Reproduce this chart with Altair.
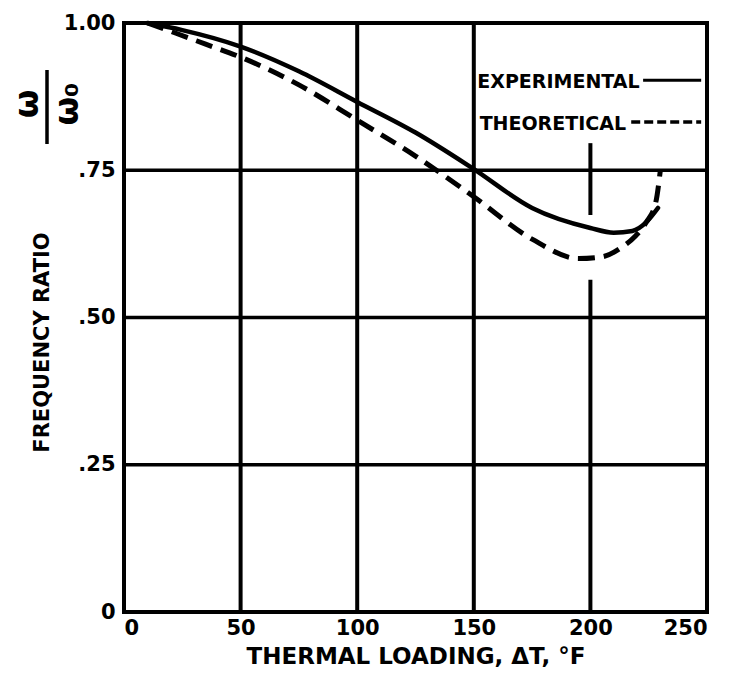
import altair as alt
import pandas as pd

# ---- data ----
exp_x = [10, 25, 50, 75, 100, 125, 150, 175, 200, 210, 218, 224, 229]
exp_y = [1.0, 0.988, 0.96, 0.918, 0.866, 0.814, 0.752, 0.686, 0.652, 0.644, 0.647, 0.662, 0.686]

theo_x = [10, 22, 35, 50, 75, 100, 125, 150, 175, 195, 205, 213, 219, 224, 228, 230]
theo_y = [1.0, 0.983, 0.964, 0.942, 0.895, 0.835, 0.774, 0.705, 0.633, 0.600, 0.603, 0.618, 0.637, 0.662, 0.695, 0.75]

x_ticks = [0, 50, 100, 150, 200, 250]
y_ticks = [0, 0.25, 0.5, 0.75, 1.0]
y_tick_labels = ["0", ".25", ".50", ".75", "1.00"]

# vertical grid segments (the 200 line is interrupted in the original)
vgrid_x = [50, 100, 150, 200, 200]
vgrid_y0 = [0, 0, 0, 0, 0.674]
vgrid_y1 = [1, 1, 1, 0.564, 0.796]
hgrid_y = [0.25, 0.5, 0.75]

legend_labels = ["EXPERIMENTAL", "THEORETICAL"]
legend_text_x = [151.5, 152.5]
legend_text_y = [0.900, 0.828]
legend_line_x0 = [222.6, 217.5]
legend_line_x1 = [247.5, 247.5]
legend_line_y = [0.903, 0.832]

omega_labels = ["ω", "ω₀"]

FONT = "DejaVu Sans"
W, H = 583, 589

xs = alt.Scale(domain=[0, 250], nice=False)
ys = alt.Scale(domain=[0, 1], nice=False)

y_expr = ""
for v, lab in zip(y_ticks, y_tick_labels):
    y_expr += f"abs(datum.value - {v}) < 0.001 ? '{lab}' : "
y_expr += "''"

x_axis = alt.Axis(
    values=x_ticks, labelFontSize=21, labelFont=FONT, labelFontWeight="bold",
    labelColor="black", labelPadding=5, domain=False, ticks=False, grid=False,
    title="THERMAL LOADING, ΔT, °F", titleFont=FONT, titleFontSize=23,
    titleFontWeight="bold", titleColor="black", titleY=51,
    titleBaseline="alphabetic",
)
y_axis = alt.Axis(
    values=y_ticks, labelExpr=y_expr, labelFontSize=21, labelFont=FONT,
    labelFontWeight="bold", labelColor="black", labelPadding=9, domain=False,
    ticks=False, grid=False, title="FREQUENCY RATIO", titleFont=FONT,
    titleFontSize=21, titleFontWeight="bold", titleColor="black",
    titleAngle=270, titleX=-82, titleY=319, titleAlign="center",
    titleBaseline="middle",
)


def X(field="x"):
    return alt.X(f"{field}:Q", scale=xs, axis=x_axis, title="THERMAL LOADING, ΔT, °F")


def Y(field="y"):
    return alt.Y(f"{field}:Q", scale=ys, axis=y_axis, title="FREQUENCY RATIO")


# vertical grid
vdf = pd.DataFrame({"x": vgrid_x, "y": vgrid_y0, "y2": vgrid_y1})
vgrid = alt.Chart(vdf).mark_rule(color="black", strokeWidth=4).encode(
    x=X(), y=Y(), y2="y2:Q",
)

# horizontal grid
hdf = pd.DataFrame({"y": hgrid_y, "x": [0] * len(hgrid_y), "x2": [250] * len(hgrid_y)})
hgrid = alt.Chart(hdf).mark_rule(color="black", strokeWidth=3.5).encode(
    x=X(), x2="x2:Q", y=Y(),
)

edf = pd.DataFrame({"x": exp_x, "y": exp_y})
exp_line = alt.Chart(edf).mark_line(
    color="black", strokeWidth=4.5, interpolate="monotone", strokeCap="round"
).encode(x=X(), y=Y())

tdf = pd.DataFrame({"x": theo_x, "y": theo_y})
theo_line = alt.Chart(tdf).mark_line(
    color="black", strokeWidth=5, interpolate="monotone", strokeDash=[17, 9]
).encode(x=X(), y=Y())

ltdf = pd.DataFrame({"label": legend_labels, "x": legend_text_x, "y": legend_text_y})
leg_text = alt.Chart(ltdf).mark_text(
    align="left", baseline="middle", font=FONT, fontWeight="bold",
    fontSize=19, color="black"
).encode(x=X(), y=Y(), text="label:N")

lsolid = pd.DataFrame({"x": [legend_line_x0[0]], "x2": [legend_line_x1[0]], "y": [legend_line_y[0]]})
leg_solid = alt.Chart(lsolid).mark_rule(color="black", strokeWidth=3).encode(
    x=X(), x2="x2:Q", y=Y(),
)
ldash = pd.DataFrame({"x": [legend_line_x0[1]], "x2": [legend_line_x1[1]], "y": [legend_line_y[1]]})
leg_dash = alt.Chart(ldash).mark_rule(color="black", strokeWidth=3.5, strokeDash=[9, 4]).encode(
    x=X(), x2="x2:Q", y=Y(),
)

# omega / omega_0 label, rotated (annotation outside the plot)
om_num = alt.Chart(pd.DataFrame({"t": [omega_labels[0]]})).mark_text(
    angle=270, align="center", baseline="middle", font=FONT,
    fontSize=33, color="black", fontWeight="bold"
).encode(x=alt.value(-96), y=alt.value(81), text="t:N")
om_den = alt.Chart(pd.DataFrame({"t": [omega_labels[1]]})).mark_text(
    angle=270, align="center", baseline="middle", font=FONT,
    fontSize=33, color="black", fontWeight="bold"
).encode(x=alt.value(-56), y=alt.value(81), text="t:N")
bar = alt.Chart(pd.DataFrame({"a": [0]})).mark_rule(color="black", strokeWidth=3.5).encode(
    x=alt.value(-77), y=alt.value(47), y2=alt.value(121)
)

chart = alt.layer(
    vgrid, hgrid, theo_line, exp_line, leg_text, leg_solid, leg_dash,
    om_num, om_den, bar
).properties(
    width=W, height=H,
    autosize=alt.AutoSizeParams(type="none"),
    padding={"left": 116, "top": 15, "right": 9, "bottom": 58},
    background="white",
).configure_view(
    stroke="black", strokeWidth=4
)

chart.save("out.html", embed_options={"renderer": "svg", "actions": False})
